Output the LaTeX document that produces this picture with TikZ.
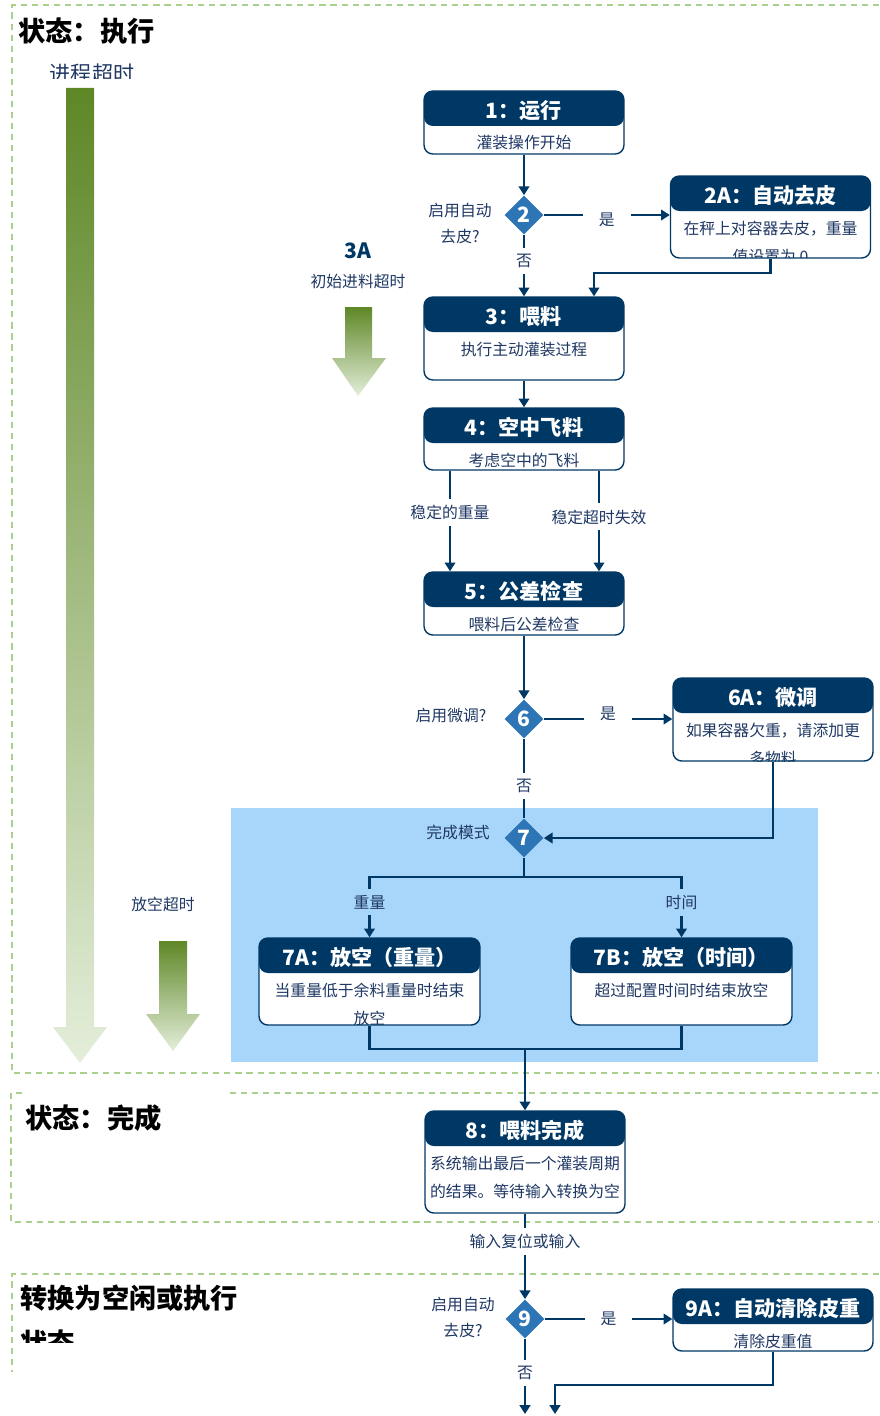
\documentclass[tikz,border=0pt]{standalone}
\usepackage{fontspec}
\setmainfont{Noto Sans CJK SC}
\usetikzlibrary{shapes.geometric,arrows.meta,positioning,calc}

\definecolor{navy}{RGB}{0,56,101}
\definecolor{textblue}{RGB}{31,56,100}
\definecolor{decblue}{RGB}{46,117,182}
\definecolor{panelblue}{RGB}{168,214,251}
\definecolor{framegreen}{RGB}{169,209,142}
\definecolor{growtop}{RGB}{94,135,38}
\definecolor{growbot}{RGB}{228,238,218}

\begin{document}
\begin{tikzpicture}[
        x=0.02cm, y=-0.02cm,
        headtext/.style={draw=none, fill=none, minimum width=0pt, minimum height=0pt, text=white, font=\fontsize{12}{14}\selectfont\bfseries},
        bodytext/.style={draw=none, fill=none, minimum width=0pt, minimum height=0pt, anchor=north, inner sep=0pt, text=textblue, align=center, font=\fontsize{9}{15.9}\selectfont},
        stepbox/.style 2 args={rectangle, draw=navy, line width=0.8pt, rounded corners=5pt, fill=white, minimum width=4cm, inner sep=0pt,
            path picture={
                \fill[navy] (path picture bounding box.north west) rectangle ([yshift=-0.7cm]path picture bounding box.north east);
                \node[headtext] at ([yshift=-0.39cm]path picture bounding box.north) {#1};
                \node[bodytext] at ([yshift=-0.88cm]path picture bounding box.north) {#2};
            }},
        decision/.style={diamond, fill=decblue, minimum size=0.78cm, inner sep=0pt, text=white, font=\fontsize{12}{14}\selectfont\bfseries},
        flow/.style={draw=navy, line width=1.3pt, -{Triangle[length=5pt,width=6pt]}},
        link/.style={draw=navy, line width=1.3pt},
        lab/.style={fill=white, text=textblue, inner xsep=9pt, inner ysep=3.5pt, font=\fontsize{9}{14.8}\selectfont},
        note/.style={text=textblue, align=center, font=\fontsize{9}{14.8}\selectfont},
        statetitle/.style={anchor=west, inner sep=0pt, text=black, align=left, font=\fontsize{15.5}{25.6}\selectfont\bfseries},
        stateframe/.style={draw=framegreen, line width=0.9pt, dash pattern=on 3.5pt off 2.8pt},
        timeout/.style={top color=growtop, bottom color=growbot, draw=none}
        ]
        \useasboundingbox (0,0) rectangle (879,1416);

        % state frames
        \draw[stateframe] (879,5) -- (12,5) -- (12,1073) -- (879,1073);
        \draw[stateframe] (22,1093) -- (11,1093) -- (11,1222) -- (879,1222);
        \draw[stateframe] (230,1093) -- (879,1093);
        \draw[stateframe] (879,1274) -- (12,1274) -- (12,1372);
        \fill[panelblue] (231,808) rectangle (818,1062);

        % timeouts
        \shade[timeout] (66,88) -- (94,88) -- (94,1027) -- (107,1027) -- (80,1063) -- (53,1027) -- (66,1027) -- cycle;
        \shade[timeout] (345,307) -- (372,307) -- (372,358) -- (386,358) -- (358,396) -- (332,358) -- (345,358) -- cycle;
        \shade[timeout] (159,941) -- (187,941) -- (187,1014) -- (200,1014) -- (173,1051) -- (146,1014) -- (159,1014) -- cycle;

        \node[statetitle] (t1) at (18,31) {状态：执行};
        \begin{scope}
            \clip (0,55) rectangle (300,79);
            \node[note, font=\fontsize{12}{14}\selectfont] (tp) at (92,73) {进程超时};
        \end{scope}
        \node[note, text=navy, font=\fontsize{12}{14}\selectfont\bfseries] (t3a) at (358,251) {3A};
        \node[note] (t3b) at (358,281) {初始进料超时};
        \node[note] (t7) at (163,904) {放空超时};
        \node[statetitle] (t8) at (25,1118) {状态：完成};
        \begin{scope}
            \clip (0,1280) rectangle (300,1342);
            \node[statetitle] (t9) at (20,1320) {转换为空闲或执行\\状态};
        \end{scope}

        % steps
        \node[stepbox={1：运行}{灌装操作开始}, minimum height=1.26cm] (s1) at (524,122.5) {};
        \node[stepbox={2A：自动去皮}{在秤上对容器去皮，重量\\值设置为 0}, minimum height=1.64cm] (s2a) at (770.5,217) {};
        \node[stepbox={3：喂料}{执行主动灌装过程}, minimum height=1.66cm] (s3) at (524,338.5) {};
        \node[stepbox={4：空中飞料}{考虑空中的飞料}, minimum height=1.24cm] (s4) at (524,439) {};
        \node[stepbox={5：公差检查}{喂料后公差检查}, minimum height=1.26cm] (s5) at (524,603.5) {};
        \node[stepbox={6A：微调}{如果容器欠重，请添加更\\多物料}, minimum height=1.66cm] (s6a) at (773,719.5) {};
        \node[stepbox={7A：放空（重量）}{当重量低于余料重量时结束\\放空}, minimum width=4.42cm, minimum height=1.74cm] (s7a) at (369.5,981.5) {};
        \node[stepbox={7B：放空（时间）}{超过配置时间时结束放空}, minimum width=4.42cm, minimum height=1.74cm] (s7b) at (681.5,981.5) {};
        \node[stepbox={8：喂料完成}{系统输出最后一个灌装周期\\的结果。等待输入转换为空}, minimum height=2.04cm] (s8) at (525,1162) {};
        \node[stepbox={9A：自动清除皮重}{清除皮重值}, minimum height=1.24cm] (s9a) at (773,1320) {};

        % decisions
        \node[decision] (d2) at (524,215) {2};
        \node[decision] (d6) at (524,719) {6};
        \node[decision] (d7) at (524,838) {7};
        \node[decision] (d9) at (525,1319) {9};
        \node[note] (q2) at (460,223) {启用自动\\去皮?};
        \node[note] (q6) at (451,716) {启用微调?};
        \node[note] (q7) at (458,832) {完成模式};
        \node[note] (q9) at (463,1317) {启用自动\\去皮?};

        % connectors
        \draw[flow] (s1) -- (d2);
        \draw[flow] (d2) -- node[lab, yshift=-3pt]{是} (d2 -| s2a.west);
        \draw[flow] (d2) -- node[lab, pos=0.42]{否} (s3);
        \draw[flow] (s2a.south) -- ++(0,14) -| ([xshift=1.4cm]s3.north);
        \draw[flow] (s3) -- (s4);
        \draw[flow] ([xshift=-1.48cm]s4.south) -- node[lab, pos=0.42]{稳定的重量} ([xshift=-1.48cm]s5.north);
        \draw[flow] ([xshift=1.5cm]s4.south) -- node[lab, pos=0.46]{稳定超时失效} ([xshift=1.5cm]s5.north);
        \draw[flow] (s5) -- (d6);
        \draw[flow] (d6) -- node[lab, yshift=3pt]{是} (d6 -| s6a.west);
        \draw[link] (d6) -- node[lab, pos=0.6]{否} (d7);
        \draw[flow] (s6a.south) |- (d7.east);
        \draw[link] (d7.south) -- ++(0,19) coordinate (split7);
        \draw[flow] (split7) -| node[lab, fill=panelblue, pos=0.71]{重量} (s7a.north);
        \draw[flow] (split7) -| node[lab, fill=panelblue, pos=0.71]{时间} (s7b.north);
        \draw[link] (s7a.south) -- ++(0,23) coordinate (join7) -| (s7b.south);
        \draw[flow] (join7 -| s8) -- (s8);
        \draw[flow] (s8) -- node[lab, pos=0.33]{输入复位或输入} (d9);
        \draw[flow] (d9) -- node[lab]{是} (d9 -| s9a.west);
        \coordinate (end9) at (525,1414);
        \coordinate (end9a) at (555,1414);
        \draw[flow] (d9) -- node[lab, pos=0.45]{否} (end9);
        \draw[flow] (s9a.south) -- ++(0,33) -| (end9a);
\end{tikzpicture}
\end{document}
